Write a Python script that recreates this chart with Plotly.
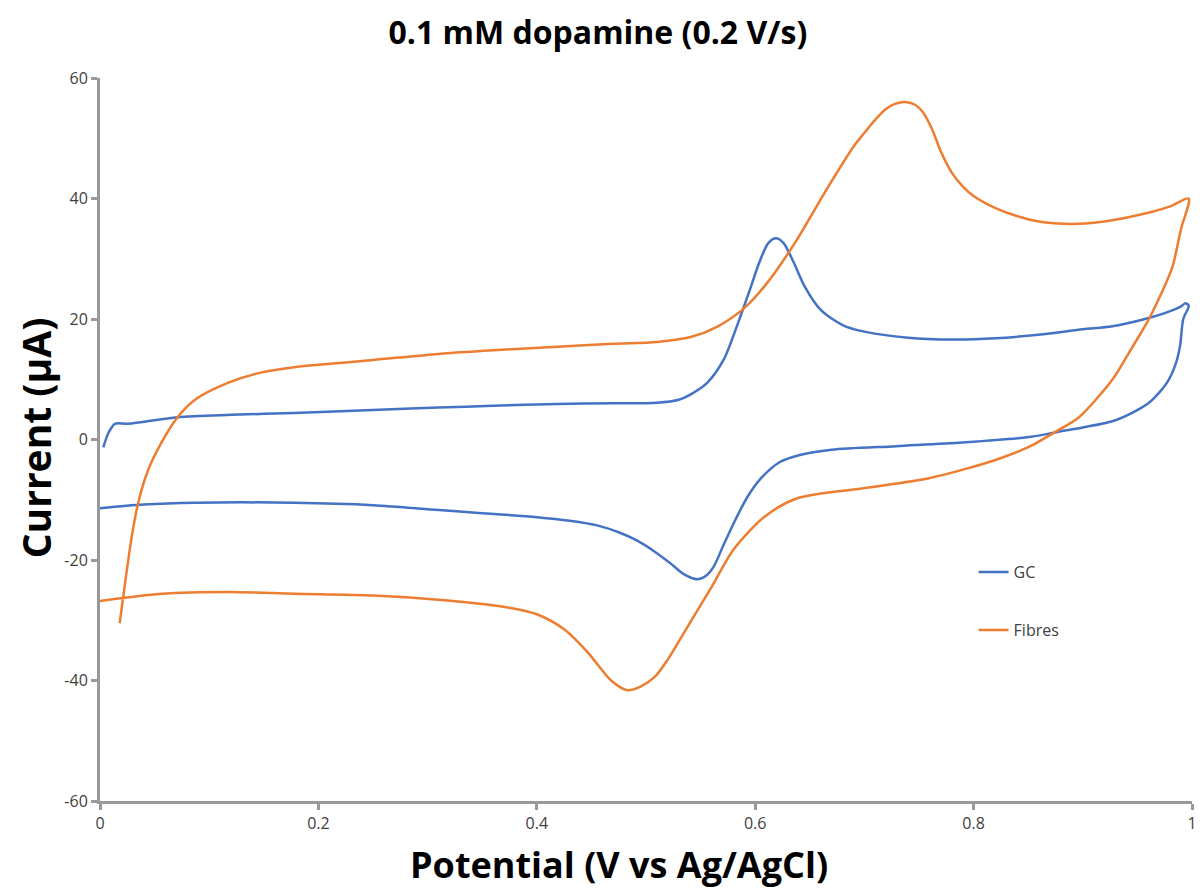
import plotly.graph_objects as go

# GC electrode: forward sweep then reverse sweep (V, µA)
gc_potential = [0.003, 0.008, 0.0137, 0.026, 0.071, 0.12, 0.178, 0.25, 0.31, 0.36, 0.419, 0.47, 0.51,
                0.53, 0.541, 0.556, 0.571, 0.583, 0.595, 0.604, 0.612, 0.619, 0.626, 0.635, 0.645,
                0.66, 0.68, 0.7, 0.74, 0.78, 0.82, 0.866, 0.9, 0.927, 0.957, 0.98, 0.99, 0.994, 0.997,
                0.992, 0.989, 0.985, 0.977, 0.96, 0.93, 0.9, 0.881, 0.851, 0.79, 0.729, 0.67, 0.64, 0.623,
                0.605, 0.593, 0.583, 0.571, 0.562, 0.555, 0.547, 0.535, 0.522, 0.507, 0.492, 0.475, 0.456,
                0.43, 0.40, 0.31, 0.25, 0.178, 0.087, 0.04, 0.0]
gc_current = [-1.3, 1.2, 2.6, 2.6, 3.7, 4.1, 4.4, 4.9, 5.3, 5.6, 5.9, 6.0, 6.1,
              6.6, 7.5, 9.4, 13.2, 18.7, 24.8, 29.5, 32.6, 33.4, 32.6, 29.5, 25.5,
              21.5, 19.0, 17.9, 16.9, 16.6, 16.8, 17.5, 18.3, 18.8, 20.0, 21.3, 22.1, 22.6, 22.2,
              20.0, 15.5, 12.5, 9.4, 6.0, 3.2, 2.0, 1.4, 0.4, -0.5, -1.1, -1.7, -2.6, -3.7,
              -6.5, -9.5, -12.9, -17.5, -21.1, -22.6, -23.2, -22.4, -20.5, -18.5, -16.8, -15.4, -14.3,
              -13.5, -12.9, -11.7, -10.9, -10.5, -10.5, -10.8, -11.4]

# Fibres electrode: forward sweep then reverse sweep (V, µA)
fibres_potential = [0.018, 0.023, 0.029, 0.035, 0.044, 0.056, 0.071, 0.087, 0.117, 0.147, 0.178, 0.2, 0.25,
                    0.31, 0.36, 0.419, 0.47, 0.51, 0.541, 0.565, 0.59, 0.611, 0.638, 0.665, 0.69,
                    0.70, 0.71, 0.72, 0.728, 0.737, 0.746, 0.754, 0.762, 0.77, 0.78, 0.79, 0.80, 0.82, 0.845,
                    0.866, 0.896, 0.927, 0.957, 0.98, 0.997, 0.99, 0.982, 0.969, 0.96, 0.942, 0.927, 0.896,
                    0.878, 0.851, 0.82, 0.76, 0.699, 0.638, 0.608, 0.58, 0.56, 0.538, 0.52, 0.508, 0.495,
                    0.483, 0.468, 0.447, 0.425, 0.40, 0.371, 0.31, 0.25, 0.178, 0.117,
                    0.056, 0.0]
fibres_current = [-30.5, -23.8, -16.2, -10.5, -5.1, -0.6, 3.7, 6.6, 9.4, 11.1, 12.0, 12.4, 13.2,
                  14.2, 14.8, 15.4, 15.9, 16.2, 17.0, 18.7, 21.8, 26.0, 33.1, 41.4, 48.6,
                  50.9, 53.1, 54.9, 55.7, 56.0, 55.6, 54.2, 51.5, 47.8, 44.3, 42.0, 40.4, 38.4, 36.8,
                  36.0, 35.8, 36.4, 37.5, 38.7, 40.0, 35.0, 28.6, 23.1, 19.8, 14.3, 9.9, 3.6,
                  1.6, -1.2, -3.4, -6.4, -8.1, -9.8, -12.9, -18.3, -24.5, -31.1, -36.5, -39.4, -41.0,
                  -41.6, -40.0, -35.4, -31.5, -29.0, -27.8, -26.6, -25.9, -25.6, -25.3,
                  -25.6, -26.8]

x_tick_values = [0, 0.2, 0.4, 0.6, 0.8, 1]
x_tick_labels = ["0", "0.2", "0.4", "0.6", "0.8", "1"]
y_tick_values = [-60, -40, -20, 0, 20, 40, 60]
y_tick_labels = ["-60", "-40", "-20", "0", "20", "40", "60"]

fig = go.Figure()
fig.add_trace(go.Scatter(x=gc_potential, y=gc_current, mode="lines", name="GC",
                         legendgroup="gc",
                         line=dict(color="#4472C4", width=2.5, shape="spline", smoothing=0.8)))
fig.add_trace(go.Scatter(x=fibres_potential, y=fibres_current, mode="lines", name="Fibres",
                         legendgroup="fibres",
                         line=dict(color="#ED7D31", width=2.5, shape="spline", smoothing=0.8)))

axis_common = dict(showgrid=False, zeroline=False, showline=True, linecolor="#999999",
                   linewidth=3, ticks="outside", tickcolor="#999999", tickwidth=3, ticklen=6,
                   tickfont=dict(family="Open Sans, sans-serif", size=16, color="#404040"))

fig.update_layout(
    width=1203, height=890,
    paper_bgcolor="white", plot_bgcolor="white",
    margin=dict(l=100, r=6, t=78, b=89),
    title=dict(text="<b>0.1 mM dopamine (0.2 V/s)</b>", x=0.497, xanchor="center",
               y=0.963, yanchor="middle",
               font=dict(family="Open Sans, sans-serif", size=32, color="black")),
    xaxis=dict(range=[0, 1], tickvals=x_tick_values, ticktext=x_tick_labels, **axis_common),
    yaxis=dict(range=[-60, 60], tickvals=y_tick_values, ticktext=y_tick_labels, **axis_common),
    legend=dict(x=0.80, y=0.34, xanchor="left", yanchor="top", bgcolor="rgba(0,0,0,0)",
                tracegroupgap=34, traceorder="grouped",
                font=dict(family="Open Sans, sans-serif", size=16, color="#404040")),
    annotations=[
        dict(text="<b>Potential (V vs Ag/AgCl)</b>", xref="paper", yref="paper",
             x=(621 - 100) / 1097, y=-(865 - 801) / 723, xanchor="center", yanchor="middle",
             showarrow=False, font=dict(family="Open Sans, sans-serif", size=36, color="black")),
        dict(text="<b>Current (µA)</b>", xref="paper", yref="paper",
             x=-(100 - 35) / 1097, y=(801 - 438) / 723, xanchor="center", yanchor="middle",
             textangle=-90, showarrow=False,
             font=dict(family="Open Sans, sans-serif", size=39, color="black")),
    ],
)

fig.write_html("out.html")
